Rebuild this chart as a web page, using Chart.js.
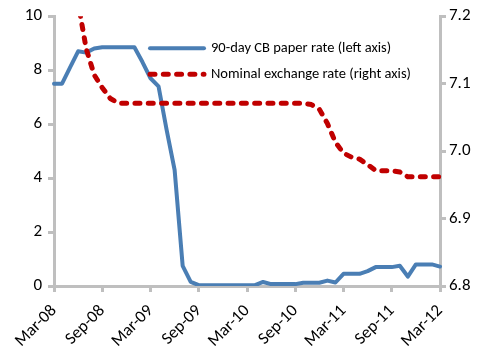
<!DOCTYPE html>
<html>
<head>
<meta charset="utf-8">
<script src="https://cdn.jsdelivr.net/npm/chart.js@4.4.1/dist/chart.umd.min.js"></script>
<style>
  html, body { margin: 0; padding: 0; background: #ffffff; }
  #wrap { width: 482px; height: 354px; position: relative; }
</style>
</head>
<body>
<div id="wrap"><canvas id="chart" width="482" height="354"></canvas></div>
<script>
// Monthly observations, Mar-08 to Mar-12
const months = [
  'Mar-08','Apr-08','May-08','Jun-08','Jul-08','Aug-08','Sep-08','Oct-08','Nov-08','Dec-08',
  'Jan-09','Feb-09','Mar-09','Apr-09','May-09','Jun-09','Jul-09','Aug-09','Sep-09','Oct-09','Nov-09','Dec-09',
  'Jan-10','Feb-10','Mar-10','Apr-10','May-10','Jun-10','Jul-10','Aug-10','Sep-10','Oct-10','Nov-10','Dec-10',
  'Jan-11','Feb-11','Mar-11','Apr-11','May-11','Jun-11','Jul-11','Aug-11','Sep-11','Oct-11','Nov-11','Dec-11',
  'Jan-12','Feb-12','Mar-12'
];

// 90-day central bank paper rate, % (left axis)
const cbPaperRate = [
  7.5, 7.5, 8.1, 8.7, 8.65, 8.8, 8.85, 8.85, 8.85, 8.85,
  8.85, 8.3, 7.7, 7.4, 5.8, 4.3, 0.75, 0.15, 0.03, 0.03, 0.03, 0.03,
  0.03, 0.03, 0.03, 0.03, 0.15, 0.07, 0.07, 0.07, 0.07, 0.12, 0.12, 0.12,
  0.2, 0.13, 0.45, 0.45, 0.45, 0.55, 0.7, 0.7, 0.7, 0.75, 0.35, 0.8,
  0.8, 0.8, 0.72
];

// Nominal exchange rate (right axis)
const exchangeRate = [
  7.36, 7.32, 7.27, 7.22, 7.152, 7.113, 7.094, 7.078, 7.071, 7.071,
  7.071, 7.071, 7.071, 7.071, 7.071, 7.071, 7.071, 7.071, 7.071, 7.071, 7.071, 7.071,
  7.071, 7.071, 7.071, 7.071, 7.071, 7.071, 7.071, 7.071, 7.071, 7.071, 7.069, 7.062,
  7.041, 7.013, 6.997, 6.991, 6.988, 6.980, 6.971, 6.971, 6.971, 6.969, 6.962, 6.962,
  6.962, 6.962, 6.962
];

const seriesNames = ['90-day CB paper rate (left axis)', 'Nominal exchange rate (right axis)'];
const leftTicks = [0, 2, 4, 6, 8, 10];
const rightTicks = [6.8, 6.9, 7.0, 7.1, 7.2];

const FONT = 'Carlito, Lato, "Open Sans", sans-serif';
const AXIS_GREY = '#bfbfbf';
const BLUE = '#4a7eb4';
const RED = '#c00000';

// Legend drawn inside the plot area, top right
const insideLegend = {
  id: 'insideLegend',
  afterDatasetsDraw(chart) {
    const ctx = chart.ctx;
    const a = chart.chartArea;
    const x0 = a.left + 96, x1 = a.left + 150, tx = a.left + 157;
    const rows = [a.top + 32, a.top + 58];
    ctx.save();
    chart.data.datasets.forEach((ds, i) => {
      const y = rows[i];
      ctx.beginPath();
      ctx.lineWidth = ds.borderWidth;
      ctx.strokeStyle = ds.borderColor;
      ctx.lineCap = ds.borderCapStyle || 'butt';
      ctx.setLineDash(ds.borderDash || []);
      ctx.moveTo(x0, y);
      ctx.lineTo(x1, y);
      ctx.stroke();
      ctx.setLineDash([]);
      ctx.fillStyle = '#000000';
      ctx.font = '14.5px ' + FONT;
      ctx.textBaseline = 'middle';
      ctx.textAlign = 'left';
      ctx.fillText(ds.label, tx, y);
    });
    ctx.restore();
  }
};

const tickFont = { family: FONT, size: 17 };

new Chart(document.getElementById('chart'), {
  type: 'line',
  data: {
    labels: months,
    datasets: [
      {
        label: seriesNames[0],
        data: cbPaperRate,
        yAxisID: 'y',
        borderColor: BLUE,
        borderWidth: 4,
        borderCapStyle: 'round',
        borderJoinStyle: 'round',
        pointRadius: 0,
        tension: 0,
        fill: false,
        order: 2
      },
      {
        label: seriesNames[1],
        data: exchangeRate,
        yAxisID: 'y1',
        borderColor: RED,
        borderWidth: 5,
        borderDash: [5, 8.3],
        borderCapStyle: 'round',
        borderJoinStyle: 'round',
        pointRadius: 0,
        tension: 0,
        fill: false,
        order: 1
      }
    ]
  },
  options: {
    responsive: false,
    animation: false,
    devicePixelRatio: 1,
    layout: { padding: { top: 10, left: 0, right: 0, bottom: 0 } },
    plugins: { legend: { display: false }, tooltip: { enabled: false } },
    scales: {
      x: {
        type: 'category',
        offset: false,
        grid: { drawOnChartArea: false, drawTicks: true, tickLength: 6, color: AXIS_GREY, lineWidth: 3 },
        border: { color: AXIS_GREY, width: 3 },
        ticks: {
          autoSkip: false,
          maxRotation: 45,
          minRotation: 45,
          color: '#000000',
          font: tickFont,
          padding: 9,
          callback: (v, i) => (i % 6 === 0 ? months[i] : null)
        },
        afterFit: (s) => { s.height = 68; }
      },
      y: {
        position: 'left',
        min: 0,
        max: 10,
        afterBuildTicks: (s) => { s.ticks = leftTicks.map(v => ({ value: v })); },
        grid: { drawOnChartArea: false, drawTicks: true, tickLength: 6, color: AXIS_GREY, lineWidth: 3 },
        border: { color: AXIS_GREY, width: 3 },
        ticks: { color: '#000000', font: tickFont, padding: 6, callback: (v) => String(v) },
        afterFit: (s) => { s.width = 54; }
      },
      y1: {
        position: 'right',
        min: 6.8,
        max: 7.2,
        afterBuildTicks: (s) => { s.ticks = rightTicks.map(v => ({ value: v })); },
        grid: { drawOnChartArea: false, drawTicks: true, tickLength: 6, color: AXIS_GREY, lineWidth: 3 },
        border: { color: AXIS_GREY, width: 3 },
        ticks: { color: '#000000', font: tickFont, padding: 3, callback: (v) => Number(v).toFixed(1) },
        afterFit: (s) => { s.width = 42; }
      }
    }
  },
  plugins: [insideLegend]
});
</script>
</body>
</html>
